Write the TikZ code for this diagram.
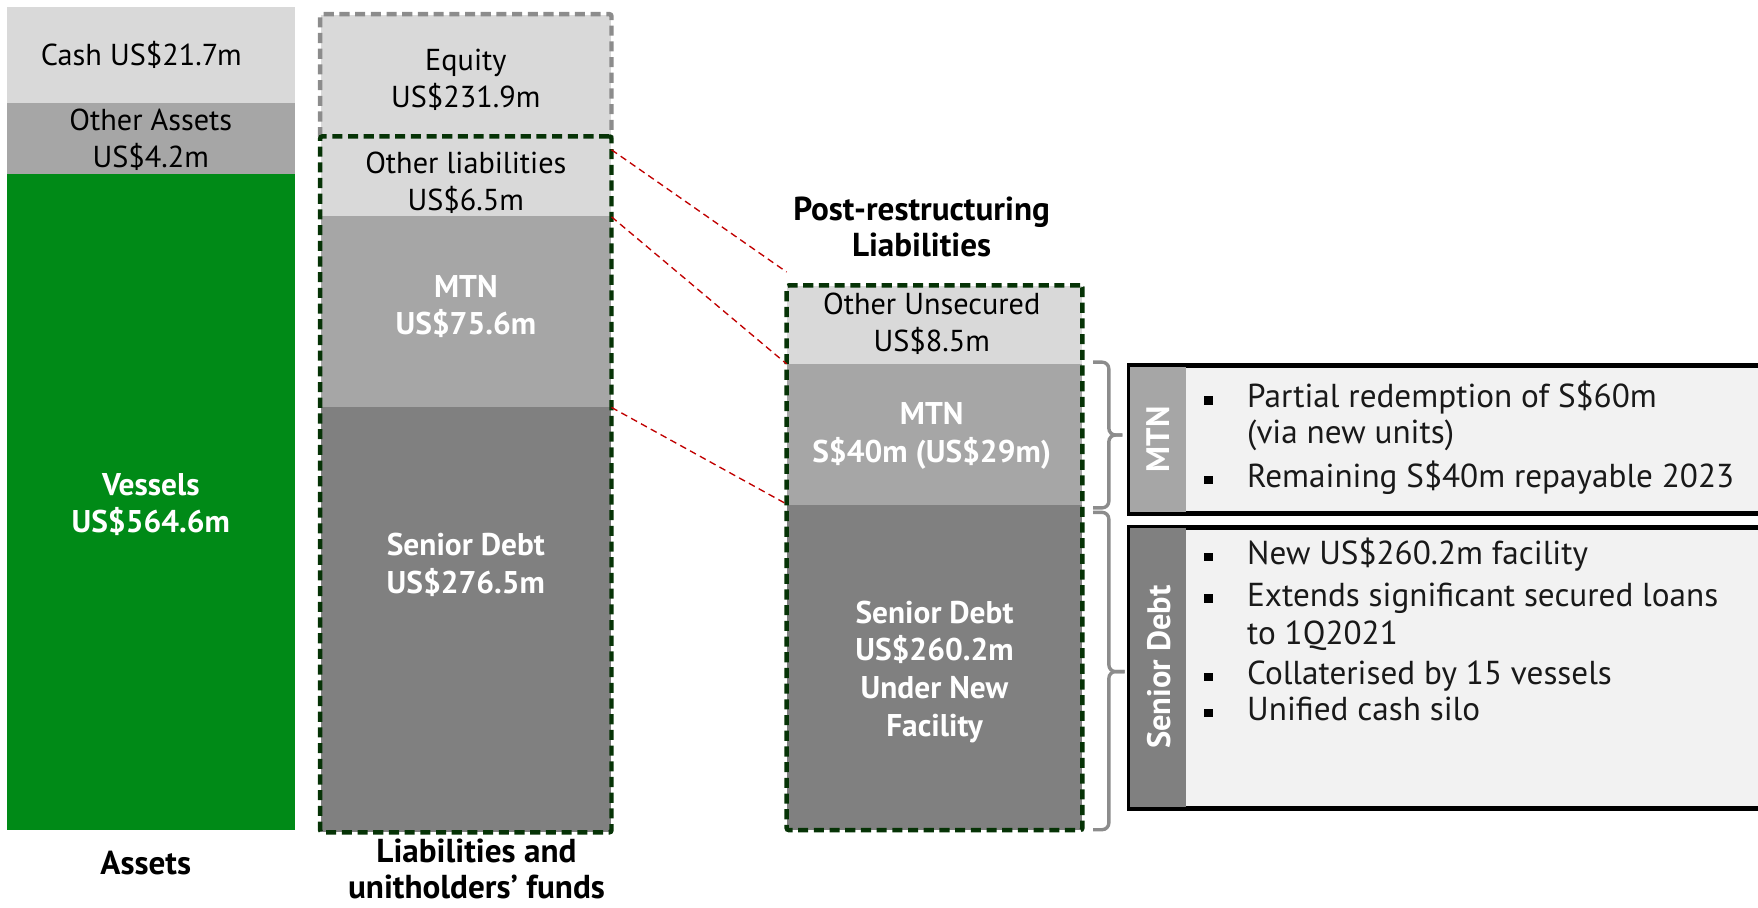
\documentclass[tikz,border=0pt]{standalone}
\usepackage{fontspec}
\setmainfont{PT Sans}
\usetikzlibrary{fit}
\definecolor{lgrey}{HTML}{D9D9D9}
\definecolor{mgrey}{HTML}{A6A6A6}
\definecolor{dgrey}{HTML}{808080}
\definecolor{vgreen}{HTML}{008A17}
\definecolor{dkgreen}{HTML}{063306}
\definecolor{panelfill}{HTML}{F2F2F2}
\definecolor{bracegrey}{HTML}{8C8C8C}
\definecolor{redline}{HTML}{C00000}
\begin{document}
\begin{tikzpicture}[x=0.5pt,y=-0.5pt,
  seg/.style={rectangle,inner sep=0,draw=none},
  txt/.style={inner sep=0,align=center,font=\fontsize{13.5}{16.5}\selectfont},
  wtxt/.style={txt,text=white,font=\fontsize{14}{16.8}\selectfont\bfseries},
  ttl/.style={inner sep=0,align=center,font=\fontsize{14.8}{16}\selectfont\bfseries},
  greendash/.style={draw=dkgreen,line width=2pt,dash pattern=on 4.5pt off 2.5pt},
  greydash/.style={draw=bracegrey,line width=2pt,dash pattern=on 4.5pt off 2.5pt},
  reddash/.style={draw=redline,line width=0.6pt,dash pattern=on 3pt off 2pt},
  bracepath/.style={draw=bracegrey,line width=1.5pt,rounded corners=3pt},
  panel/.style={inner sep=0,draw=black,line width=1.5pt,fill=panelfill},
  stripe/.style={inner sep=0,draw=none},
  bsq/.style={rectangle,fill=black,inner sep=0,minimum size=3.8pt},
  btxt/.style={inner sep=0,anchor=west,text height=9.5pt,text depth=2.7pt,font=\fontsize{14.8}{16.5}\selectfont,text=black!90},
  vtxt/.style={inner sep=0,rotate=90,text=white,font=\fontsize{14.5}{16}\selectfont\bfseries}
]
\useasboundingbox (0,0) rectangle (1568,809);
% Assets column
\node[seg,fill=lgrey,minimum width=128.5pt,minimum height=43pt] (cash) at (134.5,49) {};
\node[seg,fill=mgrey,minimum width=128.5pt,minimum height=31.5pt] (oasset) at (134.5,123.5) {};
\node[seg,fill=vgreen,minimum width=128.5pt,minimum height=292.5pt] (vessels) at (134.5,447.5) {};
\node[txt] (cashT) at (126,49) {Cash US\$21.7m};
\node[txt] (oassetT) at (134.5,124.5) {Other Assets\\US\$4.2m};
\node[wtxt] (vesselsT) at (134.5,450) {Vessels\\US\$564.6m};
\node[ttl] (assetsL) at (130,770) {Assets};
% Liabilities column
\node[seg,fill=lgrey,minimum width=129.5pt,minimum height=54.5pt] (equity) at (415.5,67.5) {};
\node[seg,fill=lgrey,minimum width=129.5pt,minimum height=35.5pt] (olib) at (415.5,157.5) {};
\node[seg,fill=mgrey,minimum width=129.5pt,minimum height=85pt] (lmtn) at (415.5,278) {};
\node[seg,fill=dgrey,minimum width=129.5pt,minimum height=189.5pt] (lsen) at (415.5,552.5) {};
\draw[greydash,rounded corners=1pt] (equity.south west) -- (equity.north west) -- (equity.north east) -- (equity.south east);
\node[fit=(olib)(lsen),inner sep=0,greendash,rounded corners=1pt] (libbox) {};
\node[txt] (equityT) at (415.5,71.5) {Equity\\US\$231.9m};
\node[txt] (olibT) at (415.5,163) {Other liabilities\\US\$6.5m};
\node[wtxt] (lmtnT) at (415.5,273.5) {MTN\\US\$75.6m};
\node[wtxt] (lsenT) at (415.5,504) {Senior Debt\\US\$276.5m};
\node[ttl] (libL) at (425,775) {Liabilities and\\unitholders' funds};
% Post-restructuring column
\node[ttl] (postL) at (822,202.5) {Post-restructuring\\Liabilities};
\node[seg,fill=lgrey,minimum width=131.5pt,minimum height=35pt] (pother) at (833.5,290) {};
\node[seg,fill=mgrey,minimum width=131.5pt,minimum height=62.5pt] (pmtn) at (833.5,387.5) {};
\node[seg,fill=dgrey,minimum width=131.5pt,minimum height=145pt] (psen) at (833.5,595) {};
\node[fit=(pother)(psen),inner sep=0,greendash,rounded corners=1pt] (postbox) {};
\node[txt] (potherT) at (831,288.5) {Other Unsecured\\US\$8.5m};
\node[wtxt] (pmtnT) at (831,389) {MTN\\S\$40m (US\$29m)};
\node[wtxt] (psenT) at (833.5,599) {Senior Debt\\US\$260.2m\\Under New\\Facility};
% red dashed connectors
\draw[reddash] ([yshift=-6pt]olib.north east) -- ([yshift=6pt]pother.north west);
\draw[reddash] (olib.south east) -- (pmtn.north west);
\draw[reddash] (lmtn.south east) -- (psen.north west);
% braces
\coordinate (mb1) at (975,323); \coordinate (mb2) at (989,323);
\coordinate (mb3) at (989,388); \coordinate (mbtip) at (1001,388);
\coordinate (mb4) at (989,453); \coordinate (mb5) at (975,453);
\draw[bracepath] (mb1) -- (mb2) -- (mb3) -- (mbtip);
\draw[bracepath] (mbtip) -- (mb3) -- (mb4) -- (mb5);
\coordinate (sb1) at (975,457); \coordinate (sb2) at (989,457);
\coordinate (sb3) at (989,599); \coordinate (sbtip) at (1003,599);
\coordinate (sb4) at (989,740); \coordinate (sb5) at (975,740);
\draw[bracepath] (sb1) -- (sb2) -- (sb3) -- (sbtip);
\draw[bracepath] (sbtip) -- (sb3) -- (sb4) -- (sb5);
% MTN panel
\coordinate (mp1) at (1008,327); \coordinate (mp2) at (1600,457);
\coordinate (ms2) at (1058,457);
\node[fit=(mp1)(mp2),panel] (mtnpanel) {};
\node[fit=(mp1)(ms2),stripe,fill=mgrey] (mtnstripe) {};
\draw[black,line width=1.5pt] (mtnpanel.north east) -- (mtnpanel.north west) -- (mtnpanel.south west) -- (mtnpanel.south east);
\node[vtxt] (mtnV) at (mtnstripe.center) {MTN};
\node[bsq] (mbul1) at (1078,357) {};
\node[btxt] (ml1) at (1112,357) {Partial redemption of S\$60m};
\node[btxt] (ml2) at (1112,389) {(via new units)};
\node[bsq] (mbul2) at (1078,428) {};
\node[btxt] (ml3) at (1112,428) {Remaining S\$40m repayable 2023};
% Senior debt panel
\coordinate (sp1) at (1008,471); \coordinate (sp2) at (1600,720);
\coordinate (ss2) at (1058,720);
\node[fit=(sp1)(sp2),panel] (senpanel) {};
\node[fit=(sp1)(ss2),stripe,fill=dgrey] (senstripe) {};
\draw[black,line width=1.5pt] (senpanel.north east) -- (senpanel.north west) -- (senpanel.south west) -- (senpanel.south east);
\node[vtxt] (senV) at (1034,595) {Senior Debt};
\node[bsq] (sbul1) at (1078,497) {};
\node[btxt] (sl1) at (1112,497) {New US\$260.2m facility};
\node[bsq] (sbul2) at (1078,534) {};
\node[btxt] (sl2) at (1112,534) {Extends significant secured loans};
\node[btxt] (sl3) at (1112,568) {to 1Q2021};
\node[bsq] (sbul3) at (1078,604) {};
\node[btxt] (sl4) at (1112,604) {Collaterised by 15 vessels};
\node[bsq] (sbul4) at (1078,636) {};
\node[btxt] (sl5) at (1112,636) {Unified cash silo};
\end{tikzpicture}
\end{document}
